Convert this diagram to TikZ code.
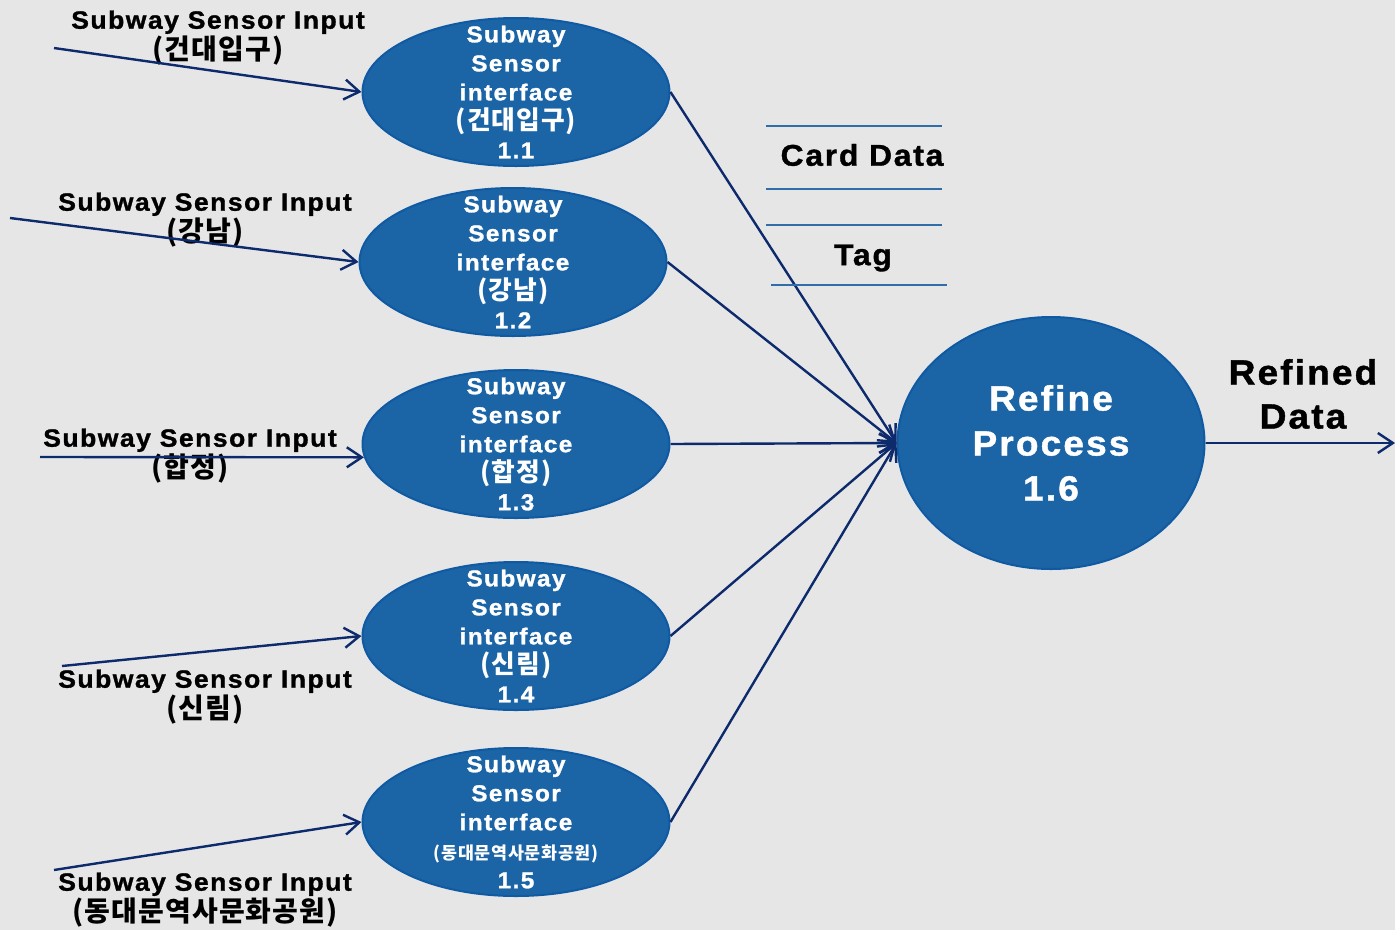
\documentclass[tikz,border=0pt]{standalone}
\usepackage{fontspec}
\setmainfont{Liberation Sans}[LetterSpace=6, BoldFeatures={FakeBold=1.2, FakeStretch=1.06}]
\newfontfamily\kr{Noto Sans CJK KR}[LetterSpace=4,Scale=1.12]
\usetikzlibrary{shapes.geometric,arrows.meta}
\definecolor{bg}{HTML}{E6E6E6}
\definecolor{procfill}{HTML}{1B64A5}
\definecolor{procdraw}{HTML}{0F5AA3}
\definecolor{flow}{HTML}{0C2A6C}
\definecolor{storeline}{HTML}{2F6EA8}
\tikzset{
  proctext/.style={text=white, align=center, inner sep=0pt,
    font=\bfseries\fontsize{23}{29}\selectfont},
  proc/.style={ellipse, fill=procfill, draw=procdraw, line width=2pt, inner sep=0pt,
    minimum width=307pt, minimum height=148pt},
  bigproc/.style={proc, minimum width=307pt, minimum height=252pt},
  bigtext/.style={proctext, font=\bfseries\fontsize{35}{45}\selectfont},
  lbl/.style={align=center, text=black, inner sep=0pt, font=\bfseries\fontsize{25}{31}\selectfont},
  flowarrow/.style={draw=flow, line width=2.4pt, -{Straight Barb[length=15pt,width=20pt,line width=2.4pt]}},
  storeln/.style={draw=storeline, line width=1.3pt},
}
\begin{document}
\begin{tikzpicture}[x=1pt,y=-1pt]
\fill[bg] (0,0) rectangle (1395,930);
\useasboundingbox (0,0) rectangle (1395,930);

% processes
\node[proc, label={[proctext]center:Subway\\Sensor\\interface\\{\kr\bfseries (건대입구)}\\1.1}] (e11) at (516,92) {};
\node[proc, label={[proctext]center:Subway\\Sensor\\interface\\{\kr\bfseries (강남)}\\1.2}] (e12) at (513,262) {};
\node[proc, label={[proctext]center:Subway\\Sensor\\interface\\{\kr\bfseries (합정)}\\1.3}] (e13) at (516,444) {};
\node[proc, label={[proctext]center:Subway\\Sensor\\interface\\{\kr\bfseries (신림)}\\1.4}] (e14) at (516,636) {};
\node[proc, label={[proctext]center:Subway\\Sensor\\interface\\{\fontsize{15.5}{20}\selectfont\kr\bfseries (동대문역사문화공원)}\\1.5}] (e15) at (516,822) {};
\node[bigproc, label={[bigtext]center:Refine\\Process\\1.6}] (e16) at (1051,443) {};

% input labels
\node[lbl] (l1) at (218,38) {Subway Sensor Input\\{\kr\bfseries (건대입구)}};
\node[lbl] (l2) at (205,220) {Subway Sensor Input\\{\kr\bfseries (강남)}};
\node[lbl] (l3) at (190,456) {Subway Sensor Input\\{\kr\bfseries (합정)}};
\node[lbl] (l4) at (205,697) {Subway Sensor Input\\{\kr\bfseries (신림)}};
\node[lbl] (l5) at (205,900) {Subway Sensor Input\\{\kr\bfseries (동대문역사문화공원)}};

% sources of input flows
\coordinate (s1) at (54,48);
\coordinate (s2) at (10,218);
\coordinate (s3) at (40,457);
\coordinate (s4) at (62,666);
\coordinate (s5) at (54,870);
\coordinate (out) at (1395,443);

\draw[flowarrow] (s1) -- (e11.west);
\draw[flowarrow] (s2) -- (e12.west);
\draw[flowarrow] (s3) -- (e13.185);
\draw[flowarrow] (s4) -- (e14.west);
\draw[flowarrow] (s5) -- (e15.west);

\draw[flowarrow] (e11.east) -- (e16.west);
\draw[flowarrow] (e12.east) -- (e16.west);
\draw[flowarrow] (e13.east) -- (e16.west);
\draw[flowarrow] (e14.east) -- (e16.west);
\draw[flowarrow] (e15.east) -- (e16.west);
\draw[flowarrow] (e16.east) -- (out);

% data stores
\node[lbl, font=\bfseries\fontsize{30}{36}\selectfont] (card) at (862,155) {Card Data};
\node[lbl, font=\bfseries\fontsize{30}{36}\selectfont] (tag) at (863,258) {Tag};
\draw[storeln] (766,126) -- (942,126);
\draw[storeln] (766,189) -- (942,189);
\draw[storeln] (766,225) -- (942,225);
\draw[storeln] (771,285) -- (947,285);

% output label
\node[lbl, font=\bfseries\fontsize{35}{44}\selectfont] (refined) at (1303,394) {Refined\\Data};
\end{tikzpicture}
\end{document}
